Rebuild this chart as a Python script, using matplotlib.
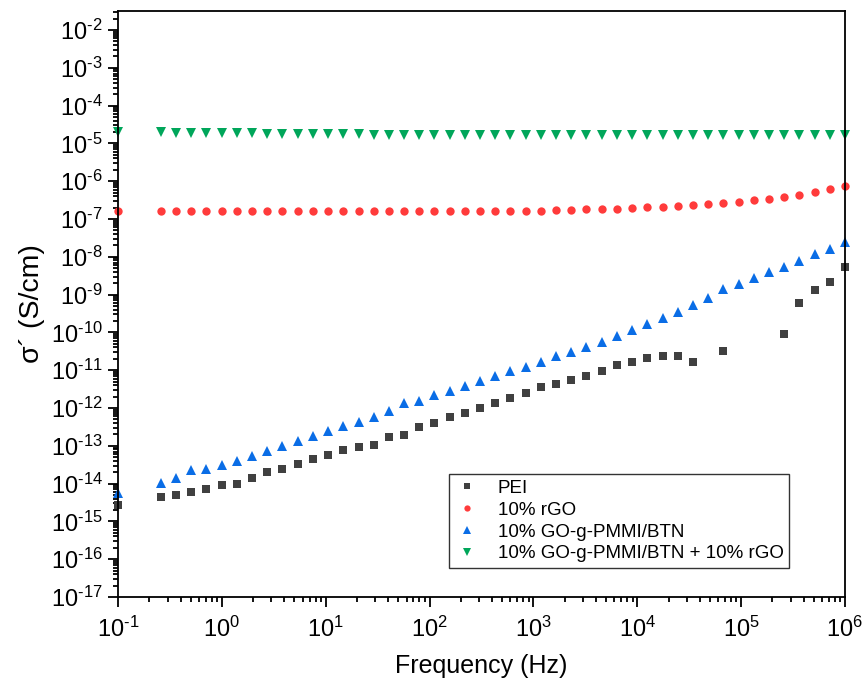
import numpy as np
import matplotlib
matplotlib.use('Agg')
import matplotlib.pyplot as plt
from matplotlib.ticker import LogLocator, NullFormatter, FuncFormatter

plt.rcParams['font.family'] = ['Liberation Sans', 'DejaVu Sans']
plt.rcParams['mathtext.fontset'] = 'custom'
plt.rcParams['mathtext.rm'] = 'Liberation Sans'
plt.rcParams['mathtext.it'] = 'Liberation Sans:italic'
plt.rcParams['mathtext.bf'] = 'Liberation Sans:bold'
plt.rcParams['axes.unicode_minus'] = False

nan = np.nan

# measurement frequencies (Hz)
freq = [0.1, 0.258, 0.361, 0.507, 0.710, 0.995, 1.39, 1.95, 2.74, 3.83, 5.37,
        7.52, 10.5, 14.8, 20.7, 29.0, 40.6, 56.8, 79.6, 111, 156, 219, 306,
        429, 601, 843, 1180, 1650, 2320, 3240, 4550, 6370, 8920, 1.25e4,
        1.75e4, 2.45e4, 3.44e4, 4.81e4, 6.74e4, 9.44e4, 1.32e5, 1.85e5,
        2.60e5, 3.64e5, 5.09e5, 7.14e5, 1e6]

# real part of conductivity (S/cm)
pei = [2.67e-15, 4.3e-15, 5.0e-15, 6.1e-15, 7.3e-15, 9.0e-15, 9.9e-15,
       1.43e-14, 2.03e-14, 2.48e-14, 3.36e-14, 4.39e-14, 5.6e-14, 7.7e-14,
       9.5e-14, 1.05e-13, 1.71e-13, 1.9e-13, 3.2e-13, 4.0e-13, 5.9e-13,
       7.5e-13, 9.8e-13, 1.38e-12, 1.81e-12, 2.45e-12, 3.66e-12, 4.3e-12,
       5.5e-12, 7.2e-12, 9.5e-12, 1.40e-11, 1.65e-11, 2.1e-11, 2.42e-11,
       2.42e-11, 1.65e-11, nan, 3.28e-11, nan, nan, nan, 9.2e-11, 6.0e-10,
       1.30e-9, 2.19e-9, 5.27e-9]

rgo = [1.62e-7, 1.58e-7, 1.58e-7, 1.58e-7, 1.58e-7, 1.58e-7, 1.58e-7,
       1.58e-7, 1.58e-7, 1.58e-7, 1.58e-7, 1.58e-7, 1.58e-7, 1.58e-7,
       1.58e-7, 1.58e-7, 1.58e-7, 1.58e-7, 1.58e-7, 1.58e-7, 1.6e-7,
       1.6e-7, 1.62e-7, 1.63e-7, 1.63e-7, 1.63e-7, 1.65e-7, 1.69e-7,
       1.73e-7, 1.80e-7, 1.84e-7, 1.88e-7, 1.95e-7, 2.04e-7, 2.12e-7,
       2.21e-7, 2.30e-7, 2.44e-7, 2.60e-7, 2.82e-7, 3.12e-7, 3.45e-7,
       3.74e-7, 4.22e-7, 5.08e-7, 6.10e-7, 7.47e-7]

go_btn = [5.7e-15, 1.06e-14, 1.38e-14, 2.29e-14, 2.39e-14, 3.1e-14, 4.06e-14,
          5.4e-14, 7.3e-14, 9.9e-14, 1.36e-13, 1.85e-13, 2.46e-13, 3.34e-13,
          4.26e-13, 5.9e-13, 8.5e-13, 1.33e-12, 1.56e-12, 2.21e-12, 2.86e-12,
          3.9e-12, 5.2e-12, 7.1e-12, 9.3e-12, 1.2e-11, 1.65e-11, 2.42e-11,
          3.09e-11, 4.19e-11, 5.68e-11, 8.04e-11, 1.16e-10, 1.67e-10,
          2.45e-10, 3.53e-10, 5.31e-10, 7.98e-10, 1.38e-9, 1.9e-9, 2.75e-9,
          3.97e-9, 5.47e-9, 7.9e-9, 1.19e-8, 1.61e-8, 2.41e-8]

go_btn_rgo = [2.05e-5, 1.97e-5, 1.93e-5, 1.90e-5, 1.87e-5, 1.85e-5, 1.88e-5,
              1.83e-5, 1.81e-5, 1.79e-5, 1.77e-5, 1.75e-5, 1.74e-5, 1.73e-5,
              1.72e-5, 1.70e-5, 1.68e-5, 1.67e-5, 1.67e-5, 1.66e-5, 1.66e-5,
              1.66e-5, 1.66e-5, 1.66e-5, 1.66e-5, 1.66e-5, 1.66e-5, 1.66e-5,
              1.66e-5, 1.66e-5, 1.66e-5, 1.66e-5, 1.66e-5, 1.66e-5, 1.66e-5,
              1.66e-5, 1.66e-5, 1.66e-5, 1.66e-5, 1.66e-5, 1.66e-5, 1.66e-5,
              1.66e-5, 1.66e-5, 1.66e-5, 1.66e-5, 1.68e-5]

labels = ['PEI', '10% rGO', '10% GO-g-PMMI/BTN', '10% GO-g-PMMI/BTN + 10% rGO']


def decade_label(v, pos):
    # 10^n with a plain hyphen for the sign
    n = int(round(np.log10(v)))
    sign = r'\text{-}' if n < 0 else ''
    return r'$\mathdefault{10^{%s%d}}$' % (sign, abs(n))


fig = plt.figure(figsize=(8.67, 6.89), dpi=100)
ax = fig.add_axes([0.1361, 0.1335, 0.8385, 0.8505])

ax.plot(freq, pei, 's', color='#404040', ms=5.5, mew=0, label=labels[0], clip_on=False)
ax.plot(freq, rgo, 'o', color='#ff3b3b', ms=6, mew=0, label=labels[1], clip_on=False)
ax.plot(freq, go_btn, '^', color='#0a6de6', ms=7.5, mew=0, label=labels[2], clip_on=False)
ax.plot(freq, go_btn_rgo, 'v', color='#00a65a', ms=7.5, mew=0, label=labels[3], clip_on=False)

ax.set_xscale('log')
ax.set_yscale('log')
ax.set_xlim(0.1, 1e6)
ax.set_ylim(1e-17, 10 ** -1.5)

ax.xaxis.set_major_locator(LogLocator(base=10, numticks=20))
ax.yaxis.set_major_locator(LogLocator(base=10, numticks=30))
ax.xaxis.set_minor_locator(LogLocator(base=10, subs=np.arange(2, 10), numticks=20))
ax.yaxis.set_minor_locator(LogLocator(base=10, subs=np.arange(2, 10), numticks=30))
ax.xaxis.set_major_formatter(FuncFormatter(decade_label))
ax.yaxis.set_major_formatter(FuncFormatter(decade_label))
ax.xaxis.set_minor_formatter(NullFormatter())
ax.yaxis.set_minor_formatter(NullFormatter())

ax.tick_params(which='both', direction='out', top=False, right=False, width=1.3, colors='black')
ax.tick_params(which='major', length=7, labelsize=17)
ax.tick_params(axis='x', which='major', pad=7)
ax.tick_params(axis='y', which='major', pad=4)
ax.tick_params(which='minor', length=3.5)
for sp in ax.spines.values():
    sp.set_linewidth(1.3)

ax.set_xlabel('Frequency (Hz)', fontsize=18, labelpad=9)
ax.set_ylabel('σ´ (S/cm)', fontsize=20.5, labelpad=4)

leg = ax.legend(loc='lower left', bbox_to_anchor=(449 / 867, 1 - 568 / 689),
                bbox_transform=fig.transFigure, borderaxespad=0, numpoints=1,
                fontsize=13.5, frameon=True, fancybox=False, framealpha=1,
                edgecolor='#333333', handlelength=1.3, handletextpad=1.0,
                labelspacing=0.25, borderpad=0.3, markerscale=0.75)
leg.get_frame().set_linewidth(1.0)

fig.savefig('out.png', dpi=100)
